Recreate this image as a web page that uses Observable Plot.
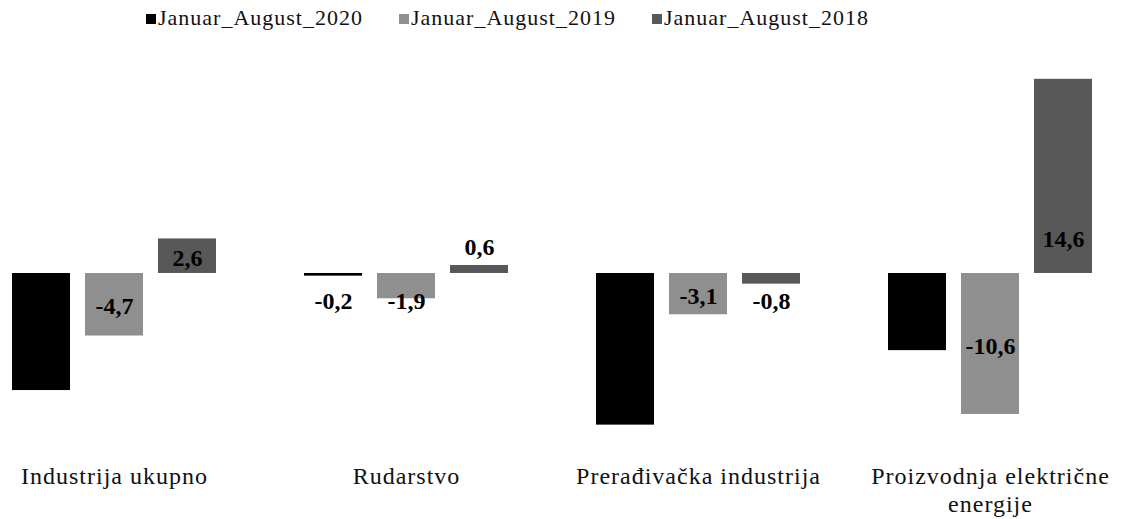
<!DOCTYPE html>
<html><head><meta charset="utf-8">
<script src="https://cdn.jsdelivr.net/npm/d3@7"></script>
<script src="https://cdn.jsdelivr.net/npm/@observablehq/plot@0.6"></script>
<style>
body{margin:0;background:#fff;font-family:"Liberation Serif","Times New Roman",serif;}
#legend{position:relative;height:40px;width:1129px;}
.item{position:absolute;top:7px;font-size:22px;letter-spacing:1px;line-height:22px;white-space:nowrap;color:#111}
.sw{display:inline-block;width:10px;height:10px;margin-right:2px;vertical-align:1px}
#chart svg{display:block}
</style></head><body>
<div id="legend"></div><div id="chart"></div>
<script>
const categories = ["Industrija ukupno", "Rudarstvo", "Prerađivačka industrija", "Proizvodnja električne energije"];
const categoryLabels = ["Industrija ukupno", "Rudarstvo", "Prerađivačka industrija", "Proizvodnja električne\nenergije"];
const series = ["Januar_August_2020", "Januar_August_2019", "Januar_August_2018"];
const values2020 = [-8.8, -0.2, -11.4, -5.8];
const values2019 = [-4.7, -1.9, -3.1, -10.6];
const values2018 = [2.6, 0.6, -0.8, 14.6];
const colors = ["#000000", "#8f8f8f", "#585858"];

const valuesBySeries = [values2020, values2019, values2018];
const rows = [];
categories.forEach((c, i) => series.forEach((s, j) => {
  const v = valuesBySeries[j][i];
  rows.push({key: c + "|" + s, cat: c, series: s, value: v, label: v.toFixed(1).replace(".", ",")});
}));
const xDomain = [];
categories.forEach((c, i) => {
  if (i > 0) xDomain.push("gap" + i);
  series.forEach(s => xDomain.push(c + "|" + s));
});
const catRows = categories.map((c, i) => ({key: c + "|" + series[1], label: categoryLabels[i]}));

// legend
const legend = document.getElementById("legend");
const lefts = [146, 399, 652];
series.forEach((s, j) => {
  const it = document.createElement("div");
  it.className = "item";
  it.style.left = lefts[j] + "px";
  it.innerHTML = `<span class="sw" style="background:${colors[j]}"></span>${s}`;
  legend.appendChild(it);
});

const small = d => Math.abs(d.value) < 1.95;
const inside = rows.filter(d => !small(d));
const belowSmall = rows.filter(d => small(d) && d.value < 0);
const aboveSmall = rows.filter(d => small(d) && d.value > 0);

const chart = Plot.plot({
  width: 1129, height: 479,
  marginLeft: 11, marginRight: 35, marginTop: 33.5, marginBottom: 86.4,
  x: {type: "band", domain: xDomain, paddingInner: 0.2, paddingOuter: 0, axis: null},
  y: {domain: [-12, 15], axis: null},
  color: {domain: series, range: colors},
  style: {fontFamily: "'Liberation Serif', 'Times New Roman', serif", background: "white"},
  marks: [
    Plot.barY(rows, {x: "key", y: "value", fill: "series"}),
    Plot.text(inside, {x: "key", y: d => d.value > 0 ? Math.min(d.value / 2, 2.7) : d.value / 2, text: "label",
      fontSize: 24, fontWeight: "bold", fill: "#000", dy: 2}),
    Plot.text(belowSmall, {x: "key", y: () => 0, text: "label", fontSize: 24, fontWeight: "bold", fill: "#000", dy: 28}),
    Plot.text(aboveSmall, {x: "key", y: () => 0, text: "label", fontSize: 24, fontWeight: "bold", fill: "#000", dy: -26}),
    Plot.text(catRows, {x: "key", frameAnchor: "bottom", text: "label", lineAnchor: "top", dy: 30,
      fontSize: 24, lineHeight: 1.2, fill: "#111"})
  ]
});
d3.select(chart).selectAll(":scope > g:last-of-type text").style("letter-spacing", "1px");
document.getElementById("chart").appendChild(chart);
</script>
</body></html>
